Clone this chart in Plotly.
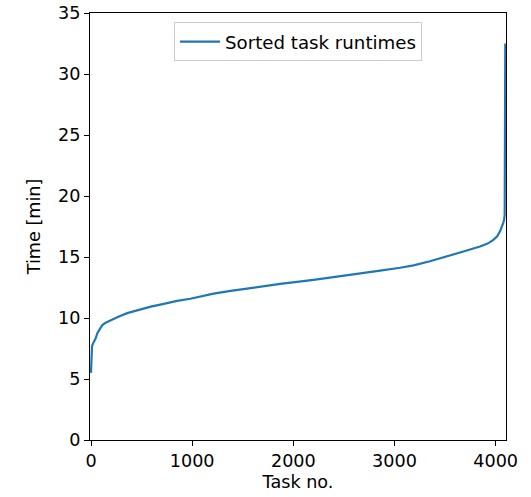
import plotly.graph_objects as go

task_no = [0, 3, 10, 25, 44, 65, 87, 110, 140, 192, 270, 358, 440, 521, 600, 686, 760, 851, 982,
           1100, 1212, 1380, 1542, 1870, 2200, 2529, 2727, 2858, 3055, 3188, 3350, 3516, 3681,
           3845, 3920, 3977, 4015, 4043, 4062, 4075, 4084, 4089, 4095]
runtime = [5.5, 7.0, 7.7, 8.0, 8.3, 8.8, 9.15, 9.4, 9.6, 9.82, 10.1, 10.4, 10.6, 10.8, 10.95,
           11.1, 11.25, 11.4, 11.58, 11.8, 12.0, 12.22, 12.42, 12.8, 13.13, 13.48, 13.72,
           13.88, 14.12, 14.32, 14.65, 15.02, 15.45, 15.86, 16.1, 16.4, 16.7, 17.1, 17.45, 17.8,
           18.1, 18.46, 32.5]

x_ticks = [0, 1000, 2000, 3000, 4000]
y_ticks = [0, 5, 10, 15, 20, 25, 30, 35]

fig = go.Figure()
fig.add_trace(go.Scatter(x=task_no, y=runtime, mode="lines", name="Sorted task runtimes",
                         line=dict(color="#1f77b4", width=2.2)))

font = dict(family="DejaVu Sans", size=17.6, color="black")
axis_common = dict(showline=True, linecolor="black", linewidth=1, mirror=True,
                   ticks="outside", ticklen=5, tickcolor="black", tickwidth=1,
                   showgrid=False, zeroline=False, tickfont=font, automargin=False)

fig.update_layout(
    width=531, height=497,
    margin=dict(l=90, r=25, t=13, b=57),
    paper_bgcolor="white", plot_bgcolor="white",
    font=font,
    xaxis=dict(range=[-10, 4102], tickvals=x_ticks, ticktext=[str(v) for v in x_ticks],
               title=dict(text="Task no.", font=font, standoff=5), **axis_common),
    yaxis=dict(range=[0, 35], tickvals=y_ticks, ticktext=[str(v) for v in y_ticks],
               title=dict(text="Time [min]", font=font, standoff=12), **axis_common),
    showlegend=True,
    legend=dict(x=0.5, xanchor="center", y=0.978, yanchor="top",
                bordercolor="#cccccc", borderwidth=1, bgcolor="white",
                font=dict(family="DejaVu Sans", size=18.2, color="black"), itemwidth=40),
)

fig.write_html("out.html", post_script="document.body.style.margin='0';",
               config={"displayModeBar": False})
